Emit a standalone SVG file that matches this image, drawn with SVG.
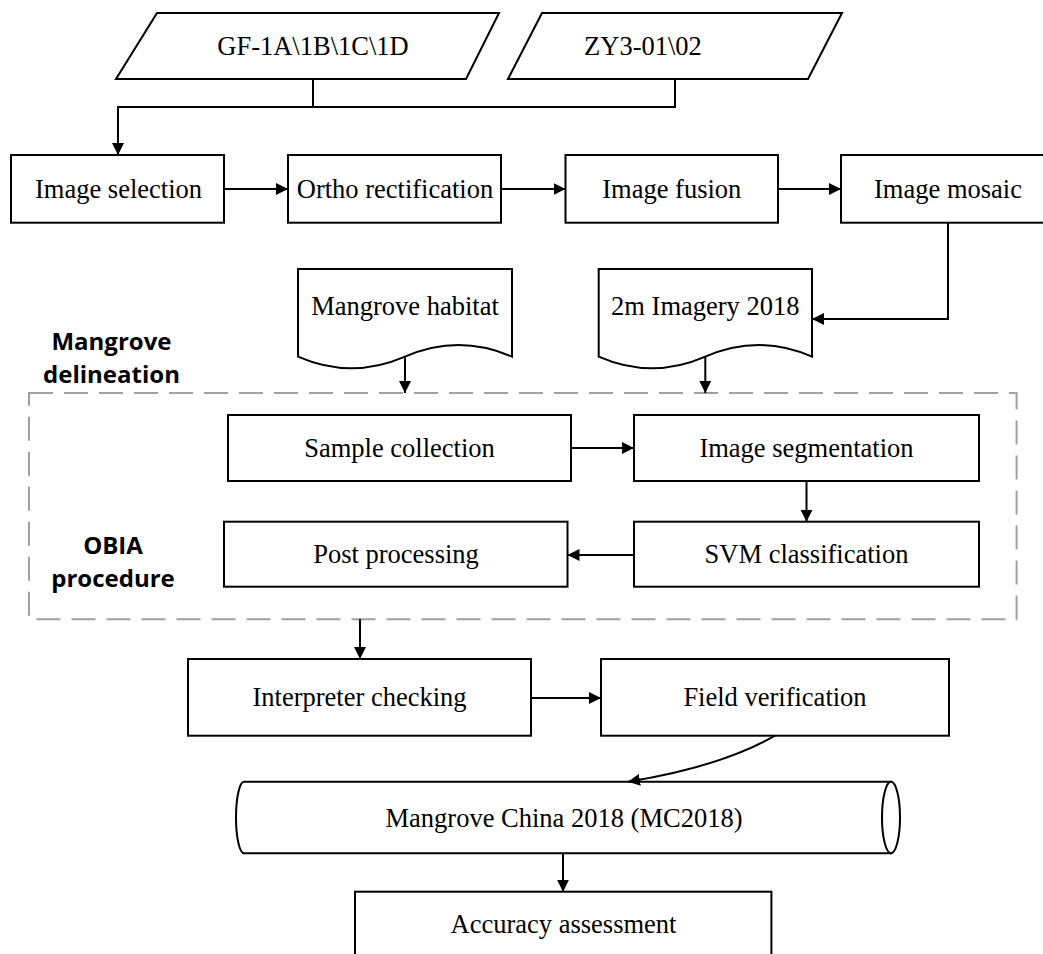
<svg xmlns="http://www.w3.org/2000/svg" width="1043" height="954" viewBox="0 0 1043 954">
<defs>
<style>
.n{fill:#fff;stroke:#000;stroke-width:2}
.t{font-family:"Liberation Serif","Times New Roman",serif;font-size:26.5px;fill:#000;text-anchor:middle}
.lb{font-family:"Open Sans","Noto Sans",sans-serif;font-weight:700;font-size:24px;fill:#000;text-anchor:middle}
.c{fill:none;stroke:#000;stroke-width:2}
.d{fill:none;stroke:#a0a0a0;stroke-width:2;stroke-dasharray:24 11}
</style>
<marker id="a" viewBox="0 0 12 12" refX="12" refY="6" markerWidth="12" markerHeight="12" markerUnits="userSpaceOnUse" orient="auto">
<path d="M0,0 L12,6 L0,12 Z" fill="#000"/>
</marker>
</defs>
<rect width="1043" height="954" fill="#fff"/>
<g id="obia-frame">
<rect class="d" x="29" y="393" width="987.6" height="226.3"/>
<text class="lb" x="111.5" y="350">Mangrove</text>
<text class="lb" x="111.5" y="383">delineation</text>
<text class="lb" x="113" y="554">OBIA</text>
<text class="lb" x="113" y="587">procedure</text>
</g>
<g id="gf"><path class="n" d="M157,13 H499 L466,79 H116 Z"/><text class="t" x="313" y="55">GF-1A\1B\1C\1D</text></g>
<g id="zy3"><path class="n" d="M542,13 H842 L808,79 H508 Z"/><text class="t" x="643" y="55">ZY3-01\02</text></g>
<g id="img-sel"><rect class="n" x="11" y="155" width="213" height="67.7"/><text class="t" x="118.5" y="198">Image selection</text></g>
<g id="ortho"><rect class="n" x="288" y="155" width="213" height="67.7"/><text class="t" x="395" y="198">Ortho rectification</text></g>
<g id="fusion"><rect class="n" x="565.5" y="155" width="212.5" height="67.7"/><text class="t" x="671.8" y="198">Image fusion</text></g>
<g id="mosaic"><rect class="n" x="841" y="155" width="213" height="67.7"/><text class="t" x="948" y="198">Image mosaic</text></g>
<g id="habitat"><path class="n" d="M298,269 H512 V356.7 Q458.5,333.4 405,356.7 T298,356.7 Z"/><text class="t" x="405" y="315">Mangrove habitat</text></g>
<g id="imagery"><path class="n" d="M598.7,269 H812 V356.7 Q758.7,333.4 705.3,356.7 T598.7,356.7 Z"/><text class="t" x="705.3" y="315">2m Imagery 2018</text></g>
<g id="sample"><rect class="n" x="228" y="415" width="343" height="66"/><text class="t" x="399.5" y="456.5">Sample collection</text></g>
<g id="segment"><rect class="n" x="634" y="415" width="345" height="66"/><text class="t" x="806.5" y="456.5">Image segmentation</text></g>
<g id="post"><rect class="n" x="224" y="521.7" width="343.5" height="65"/><text class="t" x="396" y="563">Post processing</text></g>
<g id="svm"><rect class="n" x="634" y="521.7" width="345" height="65"/><text class="t" x="806.5" y="563">SVM classification</text></g>
<g id="interp"><rect class="n" x="188" y="659" width="343" height="76.7"/><text class="t" x="359.5" y="706">Interpreter checking</text></g>
<g id="field"><rect class="n" x="601" y="659" width="348" height="76.7"/><text class="t" x="775" y="706">Field verification</text></g>
<g id="mc2018"><path class="n" d="M244,781.7 H891 V853.3 H244 A8,35.8 0 0 1 244,781.7 Z"/><ellipse class="n" cx="891" cy="817.5" rx="9" ry="35.8"/><text class="t" x="564" y="826.5">Mangrove China 2018 (MC2018)</text></g>
<g id="accuracy"><rect class="n" x="355" y="891.7" width="416.4" height="66"/><text class="t" x="563.5" y="933">Accuracy assessment</text></g>
<g id="connectors">
<path class="c" d="M313,79 V107"/>
<path class="c" d="M675,79 V107 H118 V155" marker-end="url(#a)"/>
<path class="c" d="M224,189 H288" marker-end="url(#a)"/>
<path class="c" d="M501,189 H565.5" marker-end="url(#a)"/>
<path class="c" d="M778,189 H841" marker-end="url(#a)"/>
<path class="c" d="M948,222.7 V319 H812" marker-end="url(#a)"/>
<path class="c" d="M405,356.7 V393" marker-end="url(#a)"/>
<path class="c" d="M705.3,356.7 V393" marker-end="url(#a)"/>
<path class="c" d="M571,448 H634" marker-end="url(#a)"/>
<path class="c" d="M806.5,481 V521.7" marker-end="url(#a)"/>
<path class="c" d="M634,555 H567.5" marker-end="url(#a)"/>
<path class="c" d="M360,619.3 V659" marker-end="url(#a)"/>
<path class="c" d="M531,698 H601" marker-end="url(#a)"/>
<path class="c" d="M775,735.7 Q720,767 628,781.7" marker-end="url(#a)"/>
<path class="c" d="M563,853.3 V891.7" marker-end="url(#a)"/>
</g>
</svg>
